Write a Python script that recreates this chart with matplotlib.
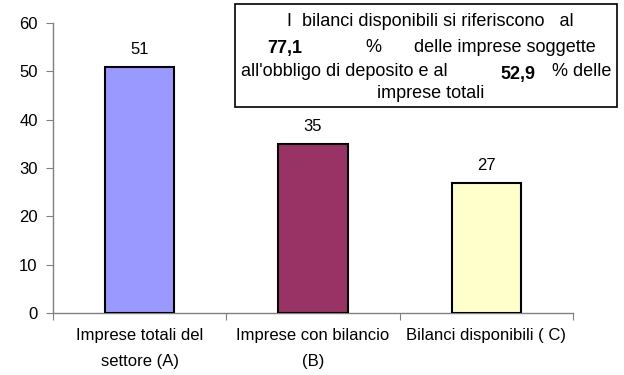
import matplotlib
matplotlib.use("Agg")
import matplotlib.pyplot as plt
from matplotlib.patches import Rectangle

categories = ["Imprese totali del\nsettore (A)", "Imprese con bilancio\n(B)", "Bilanci disponibili ( C)"]
values = [51, 35, 27]
colors = ["#9999FF", "#993366", "#FFFFCC"]
yticks = [0, 10, 20, 30, 40, 50, 60]

plt.rcParams['font.family'] = ['Liberation Sans', 'DejaVu Sans']
W, H = 624, 375
fig = plt.figure(figsize=(W/100, H/100), dpi=100)
ax = fig.add_axes([53/W, 1-313/H, (573-53)/W, (313-23)/H])

x = list(range(len(values)))
ax.bar(x, values, width=0.4, color=colors, edgecolor="black", linewidth=1.5, zorder=3)
for xi, v in zip(x, values):
    ax.annotate(str(v), (xi, v), xytext=(0, 7), textcoords="offset points",
                ha="center", va="bottom", fontsize=12)

ax.set_xlim(-0.5, 2.5)
ax.set_ylim(0, 60)
ax.set_yticks(yticks)
ax.set_yticklabels([str(t) for t in yticks], fontsize=12)
ax.set_xticks([-0.5, 0.5, 1.5, 2.5])
ax.set_xticklabels([])
ax.set_xticks(x, minor=True)
ax.set_xticklabels(categories, minor=True, fontsize=12, linespacing=1.9)
ax.tick_params(axis="x", which="minor", length=0, pad=11)
ax.tick_params(axis="x", which="major", length=5, color="#808080")
ax.tick_params(axis="y", length=5, color="#808080", pad=6)
for s in ["top", "right"]:
    ax.spines[s].set_visible(False)
for s in ["left", "bottom"]:
    ax.spines[s].set_color("#808080")
    ax.spines[s].set_linewidth(1)

# Text box
x0, y0, x1, y1 = 235, 4, 617, 107
fig.patches.append(Rectangle((x0/W, 1-y1/H), (x1-x0)/W, (y1-y0)/H, transform=fig.transFigure,
                             facecolor="white", edgecolor="black", linewidth=1.2, zorder=5))
def t(px, py, s, bold=False):
    fig.text(px/W, 1-py/H, s, ha="center", va="center", fontsize=13,
             fontweight="bold" if bold else "normal", zorder=6)
t(430, 21, "I  bilanci disponibili si riferiscono   al")
t(285, 48, "77,1", bold=True)
t(373, 48, "%")
t(505, 48, "delle imprese soggette")
t(344, 72, "all'obbligo di deposito e al")
t(518, 75, "52,9", bold=True)
t(582, 72, "% delle")
t(431, 93, "imprese totali")

fig.savefig("out.png", dpi=100)
